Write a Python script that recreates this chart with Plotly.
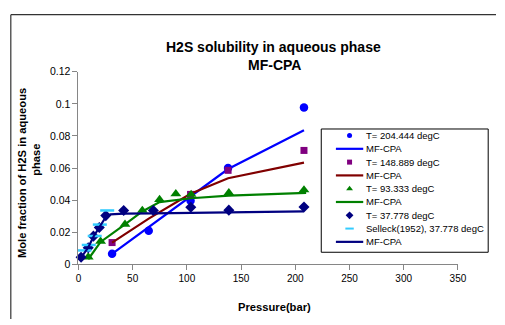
import plotly.graph_objects as go

W, H = 505, 325

# ---- data ----
x_204 = [31.0, 64.8, 103.4, 138.0, 208.0]
y_204 = [0.0066, 0.0210, 0.0396, 0.0600, 0.0978]
x_204_m = [31.0, 64.8, 103.4, 138.0, 208.0]
y_204_m = [0.0066, 0.0232, 0.0425, 0.0594, 0.0836]

x_149 = [31.0, 103.4, 138.0, 208.0]
y_149 = [0.0136, 0.0436, 0.0586, 0.0710]
x_149_m = [31.0, 64.8, 103.4, 138.0, 208.0]
y_149_m = [0.0136, 0.0285, 0.0440, 0.0537, 0.0634]

x_93 = [9.0, 20.4, 42.9, 58.9, 74.8, 89.8, 103.9, 138.7, 208.0]
y_93 = [0.0046, 0.0144, 0.0250, 0.0336, 0.0404, 0.0440, 0.0436, 0.0446, 0.0464]
x_93_m = [9.0, 20.4, 42.9, 58.9, 74.8, 89.8, 103.9, 138.7, 210.0]
y_93_m = [0.0032, 0.0140, 0.0250, 0.0330, 0.0388, 0.0402, 0.0412, 0.0428, 0.0446]

x_38 = [2.4, 9.0, 13.8, 19.2, 25.2, 41.7, 69.1, 103.6, 138.7, 208.0]
y_38 = [0.0044, 0.0104, 0.0176, 0.0230, 0.0304, 0.0336, 0.0336, 0.0356, 0.0338, 0.0358]
x_sel = [5.5, 9.5, 15.0, 19.7, 26.5]
y_sel = [0.0087, 0.0121, 0.0177, 0.0248, 0.0336]
x_38_m = [2.4, 9.0, 13.8, 19.2, 25.2, 29.5, 41.7, 69.1, 103.6, 138.7, 208.0]
y_38_m = [0.0042, 0.0105, 0.0172, 0.0232, 0.0295, 0.0312, 0.0316, 0.0318, 0.0320, 0.0322, 0.0330]

x_ticks = [0, 50, 100, 150, 200, 250, 300, 350]
y_ticks = [0, 0.02, 0.04, 0.06, 0.08, 0.1, 0.12]

BLUE, RED, GREEN, NAVY, PURPLE, CYAN = "#0000FF", "#800000", "#008000", "#000080", "#800080", "#33CCFF"
LW = 2.2
FONT = "Liberation Sans, Arial, sans-serif"

def px(x):  # pixel -> paper (margins are zero, so paper == whole figure)
    return x / W

def py(y):
    return 1 - y / H

fig = go.Figure()

def mk(x, y, sym, color, size, name):
    fig.add_trace(go.Scatter(x=x, y=y, mode="markers", name=name,
                             marker=dict(symbol=sym, color=color, size=size, line=dict(width=0)),
                             showlegend=False, cliponaxis=False))

def ln(x, y, color, name):
    fig.add_trace(go.Scatter(x=x, y=y, mode="lines", name=name,
                             line=dict(color=color, width=LW), showlegend=False, cliponaxis=False))

mk(x_204, y_204, "circle", BLUE, 8.5, "T= 204.444 degC")
ln(x_204_m, y_204_m, BLUE, "MF-CPA")
mk(x_149, y_149, "square", PURPLE, 7, "T= 148.889 degC")
ln(x_149_m, y_149_m, RED, "MF-CPA")
mk(x_93, y_93, "triangle-up", GREEN, 9.5, "T= 93.333 degC")
ln(x_93_m, y_93_m, GREEN, "MF-CPA")
mk(x_38, y_38, "diamond", NAVY, 8.5, "T= 37.778 degC")
fig.add_trace(go.Scatter(x=x_sel, y=y_sel, mode="markers", name="Selleck(1952), 37.778 degC",
                         marker=dict(symbol="line-ew", size=10, line=dict(color=CYAN, width=2.5)),
                         showlegend=False, cliponaxis=False))
ln(x_38_m, y_38_m, NAVY, "MF-CPA")

# ---- manual legend on a pixel overlay axis ----
leg_items = [
    ("T= 204.444 degC", "m", "circle", BLUE, 5),
    ("MF-CPA", "l", None, BLUE, 0),
    ("T= 148.889 degC", "m", "square", PURPLE, 5),
    ("MF-CPA", "l", None, RED, 0),
    ("T= 93.333 degC", "m", "triangle-up", GREEN, 6),
    ("MF-CPA", "l", None, GREEN, 0),
    ("T= 37.778 degC", "m", "diamond", NAVY, 6),
    ("Selleck(1952), 37.778 degC", "d", None, CYAN, 0),
    ("MF-CPA", "l", None, NAVY, 0),
]
y0, step = 134.5, 13.8
annotations = []
for i, (label, kind, sym, col, sz) in enumerate(leg_items):
    yy = y0 + i * step
    if kind == "m":
        fig.add_trace(go.Scatter(x=[355], y=[yy], mode="markers", xaxis="x2", yaxis="y2",
                                 marker=dict(symbol=sym, color=col, size=sz, line=dict(width=0)),
                                 showlegend=False, hoverinfo="skip"))
    elif kind == "d":
        fig.add_trace(go.Scatter(x=[355], y=[yy], mode="markers", xaxis="x2", yaxis="y2",
                                 marker=dict(symbol="line-ew", size=6, line=dict(color=col, width=2)),
                                 showlegend=False, hoverinfo="skip"))
    else:
        fig.add_trace(go.Scatter(x=[341, 369], y=[yy, yy], mode="lines", xaxis="x2", yaxis="y2",
                                 line=dict(color=col, width=LW), showlegend=False, hoverinfo="skip"))
    annotations.append(dict(x=px(369.5), y=py(yy), xref="paper", yref="paper", text=label, showarrow=False,
                            xanchor="left", yanchor="middle",
                            font=dict(family=FONT, size=9.5, color="#000")))

# titles
def ann(x, y, text, size, angle=0):
    return dict(x=px(x), y=py(y), xref="paper", yref="paper", text=text, showarrow=False,
                textangle=angle, xanchor="center", yanchor="middle",
                font=dict(family=FONT, size=size, color="#000"))

annotations += [
    ann(277, 43, "<b>H2S solubility in aqueous phase</b>", 14),
    ann(278, 61, "<b>MF-CPA</b>", 14),
    ann(278, 313, "<b>Pressure(bar)</b>", 11.2),
    ann(19, 174, "<b>Mole fraction of H2S in aqueous</b>", 11.2, -90),
    ann(33.5, 160, "<b>phase</b>", 11.2, -90),
]

shapes = [
    dict(type="rect", xref="paper", yref="paper", x0=px(326), y0=py(127.7), x1=px(497), y1=py(255.7),
         line=dict(color="#000", width=1), fillcolor="white", layer="below"),
    dict(type="line", xref="paper", yref="paper", x0=px(8), y0=py(9), x1=1, y1=py(9),
         line=dict(color="#333", width=1.2)),
    dict(type="line", xref="paper", yref="paper", x0=px(8), y0=py(9), x1=px(8), y1=0,
         line=dict(color="#333", width=1.2)),
]

axis_common = dict(showline=True, linecolor="#868686", linewidth=1, ticks="outside", ticklen=5,
                   tickcolor="#868686", showgrid=False, zeroline=False)

fig.update_layout(
    width=W, height=H, margin=dict(l=0, r=0, t=0, b=0),
    paper_bgcolor="white", plot_bgcolor="rgba(0,0,0,0)",
    showlegend=False,
    xaxis=dict(domain=[77.3 / W, 466 / W], range=[0, 350], tickvals=x_ticks,
               tickfont=dict(family=FONT, size=10, color="#000"), **axis_common),
    yaxis=dict(domain=[(H - 268.3) / H, (H - 68.3) / H], range=[0, 0.12], tickvals=y_ticks,
               ticktext=[f"{v:g}" for v in y_ticks],
               tickfont=dict(family=FONT, size=10.5, color="#000"), **axis_common),
    xaxis2=dict(domain=[0, 1], range=[0, W], visible=False, anchor="y2", fixedrange=True),
    yaxis2=dict(domain=[0, 1], range=[H, 0], visible=False, anchor="x2", fixedrange=True),
    annotations=annotations, shapes=shapes,
)

fig.write_html("out.html", config={"displayModeBar": False})
